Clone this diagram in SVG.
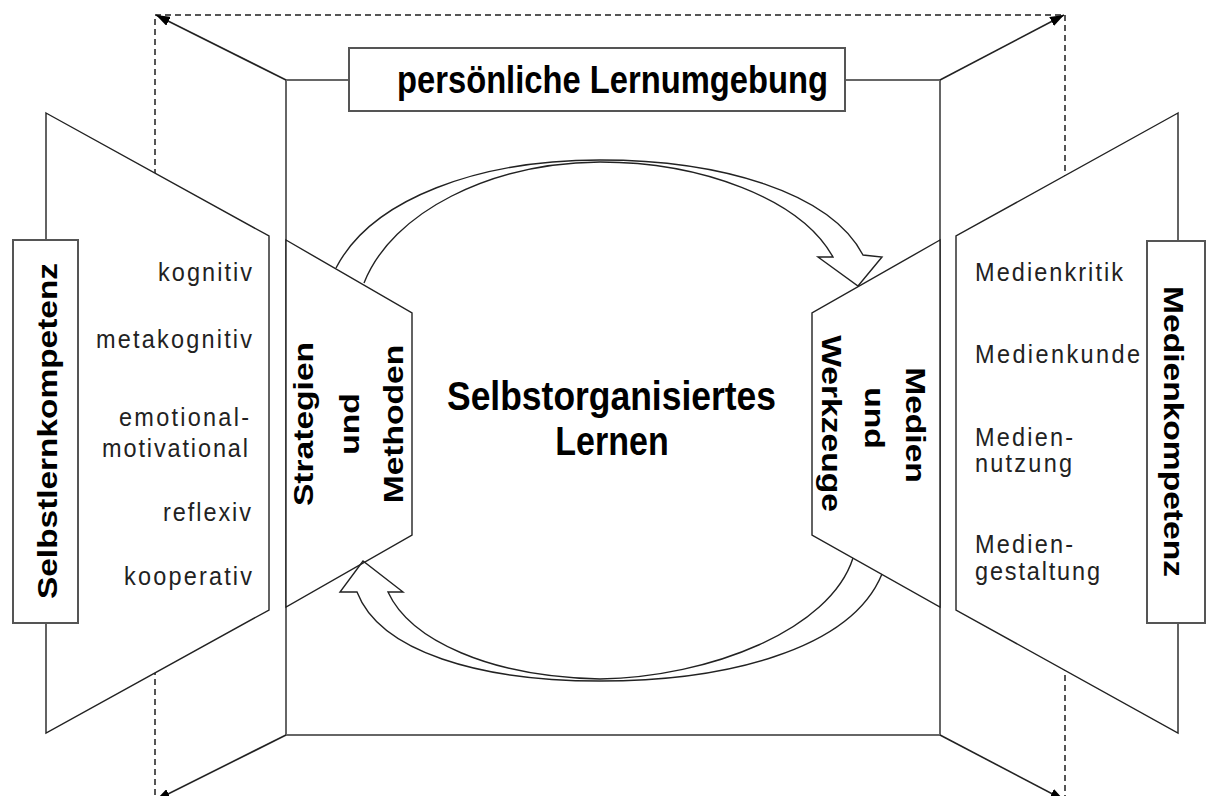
<svg xmlns="http://www.w3.org/2000/svg" width="1206" height="796" viewBox="0 0 1206 796">
<style>
.dash{fill:none;stroke:#555;stroke-width:2;stroke-dasharray:6 4}
.frame{fill:none;stroke:#666;stroke-width:2}
.shape{fill:#fff;stroke:#222;stroke-width:1.4}
.box{fill:#fff;stroke:#555;stroke-width:2}
.conn{fill:none;stroke:#222;stroke-width:1.6}
.curve{fill:none;stroke:#222;stroke-width:1.4;stroke-linejoin:miter}
.b{font-family:"Liberation Sans",Arial,sans-serif;font-weight:bold;fill:#000}
.r{font-family:"Liberation Sans",Arial,sans-serif;font-size:23.5px;fill:#222}
</style>
<defs>
<marker id="ah" viewBox="0 0 14 10" refX="14" refY="5" markerWidth="14" markerHeight="10" markerUnits="userSpaceOnUse" orient="auto">
<path d="M0,0 L14,5 L0,10 Z" fill="#000"/>
</marker>
</defs>
<rect width="1206" height="796" fill="#fff"/>
<rect class="dash" x="155" y="15" width="910" height="785"/>
<rect id="frame" class="frame" x="286" y="80" width="654" height="655"/>
<g id="connectors">
<line class="conn" x1="286" y1="80" x2="156" y2="15" marker-end="url(#ah)"/>
<line class="conn" x1="940" y1="80" x2="1064" y2="15" marker-end="url(#ah)"/>
<line class="conn" x1="286" y1="735" x2="156" y2="800" marker-end="url(#ah)"/>
<line class="conn" x1="940" y1="735" x2="1064" y2="800" marker-end="url(#ah)"/>
</g>
<g id="selbstlernkompetenz">
<polygon class="shape" points="46,113 269,236 269,610 46,733"/>
<rect class="box" x="13" y="240" width="65" height="383"/>
<text class="b" font-size="28" text-anchor="middle" textLength="280" lengthAdjust="spacingAndGlyphs" transform="translate(57,431) scale(1,1.2) rotate(-90)">Selbstlernkompetenz</text>
<g class="r" text-anchor="end">
<text textLength="94" lengthAdjust="spacing" transform="translate(252,281) scale(1,1.1)">kognitiv</text>
<text textLength="156" lengthAdjust="spacing" transform="translate(252,348) scale(1,1.1)">metakognitiv</text>
<text textLength="130" lengthAdjust="spacing" transform="translate(249,426) scale(1,1.1)">emotional-</text>
<text textLength="146" lengthAdjust="spacing" transform="translate(248,457) scale(1,1.1)">motivational</text>
<text textLength="88" lengthAdjust="spacing" transform="translate(251,521) scale(1,1.1)">reflexiv</text>
<text textLength="128" lengthAdjust="spacing" transform="translate(252,585) scale(1,1.1)">kooperativ</text>
</g>
</g>
<g id="medienkompetenz">
<polygon class="shape" points="1178,113 956,236 956,610 1178,733"/>
<rect class="box" x="1147" y="241" width="58" height="382"/>
<text class="b" font-size="28" text-anchor="middle" textLength="242.5" lengthAdjust="spacingAndGlyphs" transform="translate(1164,431.5) scale(1,1.2) rotate(90)">Medienkompetenz</text>
<g class="r">
<text textLength="148" lengthAdjust="spacing" transform="translate(975,281) scale(1,1.1)">Medienkritik</text>
<text textLength="165" lengthAdjust="spacing" transform="translate(975,363) scale(1,1.1)">Medienkunde</text>
<text textLength="98" lengthAdjust="spacing" transform="translate(975,446) scale(1,1.1)">Medien-</text>
<text textLength="97" lengthAdjust="spacing" transform="translate(975,472) scale(1,1.1)">nutzung</text>
<text textLength="98" lengthAdjust="spacing" transform="translate(975,553) scale(1,1.1)">Medien-</text>
<text textLength="125" lengthAdjust="spacing" transform="translate(975,580) scale(1,1.1)">gestaltung</text>
</g>
</g>
<g id="label-lernumgebung">
<rect class="box" x="349" y="48" width="496" height="63"/>
<text class="b" font-size="32.7" textLength="431" lengthAdjust="spacingAndGlyphs" transform="translate(397,93) scale(1,1.2)">persönliche Lernumgebung</text>
</g>
<g id="strategien">
<polygon class="shape" points="286,240 412,313 412,535 286,607"/>
<g class="b" font-size="28" text-anchor="middle">
<text transform="translate(313,424) scale(1,1.2) rotate(-90)">Strategien</text>
<text transform="translate(359,424) scale(1,1.2) rotate(-90)">und</text>
<text transform="translate(403,424) scale(1,1.2) rotate(-90)">Methoden</text>
</g>
</g>
<g id="medien-werkzeuge">
<polygon class="shape" points="940,240 812,313 812,535 940,607"/>
<g class="b" font-size="28" text-anchor="middle">
<text transform="translate(906,425) scale(1,1.2) rotate(90)">Medien</text>
<text transform="translate(865,418) scale(1,1.2) rotate(90)">und</text>
<text transform="translate(822,423.5) scale(1,1.2) rotate(90)">Werkzeuge</text>
</g>
</g>
<g id="center">
<text class="b" font-size="34" text-anchor="middle" textLength="329" lengthAdjust="spacingAndGlyphs" transform="translate(611.5,410) scale(1,1.2)">Selbstorganisiertes</text>
<text class="b" font-size="34" text-anchor="middle" transform="translate(612,455) scale(1,1.2)">Lernen</text>
</g>
<g id="cycle-arrows">
<path class="curve" d="M364,283 C392,212 490,163 600,162 C700,162 800,198 833,257 L818,257 L858,286 L882,257 L863,255 C830,192 720,160 600,160 C480,160 372,198 336,268"/>
<path class="curve" d="M853,558 C830,630 710,677 600,679 C490,677 410,640 388,592 L403,592 L363,561 L340,592 L357,592 C380,652 480,681 600,681 C720,681 850,652 882,574"/>
</g>
</svg>
